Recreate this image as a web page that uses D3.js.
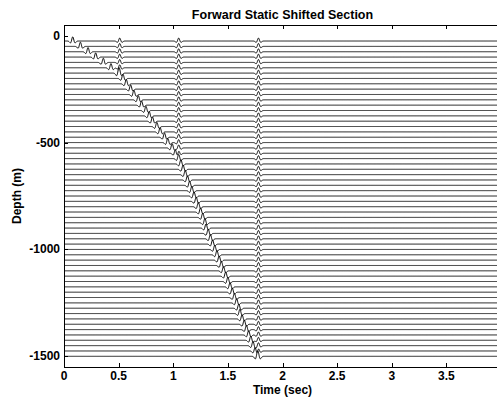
<!DOCTYPE html>
<html>
<head>
<meta charset="utf-8">
<script src="https://cdn.jsdelivr.net/npm/d3@7/dist/d3.min.js"></script>
<style>
  html, body { margin: 0; padding: 0; background: #fff; }
  svg { display: block; }
  text { font-family: "Liberation Sans", Arial, sans-serif; font-weight: bold; fill: #000; }
</style>
</head>
<body>
<script>
// Receiver depths (m) of the VSP traces
const depths = [-25, -50, -75, -100, -125, -150, -175, -200, -225, -250,
  -275, -300, -325, -350, -375, -400, -425, -450, -475, -500,
  -525, -550, -575, -600, -625, -650, -675, -700, -725, -750,
  -775, -800, -825, -850, -875, -900, -925, -950, -975, -1000,
  -1025, -1050, -1075, -1100, -1125, -1150, -1175, -1200, -1225, -1250,
  -1275, -1300, -1325, -1350, -1375, -1400, -1425, -1450, -1475, -1500];

// Shifted first-break (direct arrival) time for each trace (s)
const directTimes = [0.08, 0.15, 0.22, 0.29, 0.36, 0.43, 0.50, 0.54, 0.57, 0.61,
  0.64, 0.68, 0.71, 0.75, 0.78, 0.81, 0.85, 0.88, 0.92, 0.95,
  0.99, 1.02, 1.05, 1.07, 1.09, 1.11, 1.13, 1.15, 1.17, 1.19,
  1.21, 1.23, 1.25, 1.27, 1.29, 1.30, 1.32, 1.34, 1.36, 1.38,
  1.40, 1.42, 1.44, 1.46, 1.48, 1.50, 1.52, 1.54, 1.56, 1.58,
  1.60, 1.61, 1.63, 1.65, 1.67, 1.69, 1.71, 1.73, 1.75, 1.77];

// Flattened upgoing reflections: two-way time and reflector depth (m)
const reflectionTimes = [0.51, 1.05, 1.78];
const reflectorDepths = [-180, -572, -1530];

// Axis ticks
const timeTicks = [0, 0.5, 1, 1.5, 2, 2.5, 3, 3.5];
const depthTicks = [0, -500, -1000, -1500];

const W = 497, H = 399;
const margin = { left: 64, top: 25, right: -4, bottom: 32 };

const svg = d3.select("body").append("svg").attr("width", W).attr("height", H);

const x = d3.scaleLinear().domain([0, 4]).range([margin.left, W - margin.right]);
const y = d3.scaleLinear().domain([50, -1550]).range([margin.top, H - margin.bottom]);

// Ricker wavelet used for every arrival
const freq = 18;
function ricker(t) {
  const a = Math.PI * Math.PI * freq * freq * t * t;
  return (1 - 2 * a) * Math.exp(-a);
}

// Build the events on each trace
const traces = depths.map((d, i) => {
  const events = [{ t: directTimes[i], amp: 1.0 }];
  reflectionTimes.forEach((rt, k) => {
    if (d > reflectorDepths[k]) events.push({ t: rt, amp: 0.7 });
  });
  return { depth: d, events };
});

const dt = 0.002;
const samples = d3.range(0, 4 + dt / 2, dt);
const pxPerUnit = 4.2;

const line = d3.line().x(p => x(p[0])).y(p => p[1]);

const plot = svg.append("g");
plot.selectAll("path.trace")
  .data(traces)
  .join("path")
  .attr("class", "trace")
  .attr("fill", "none")
  .attr("stroke", "#000")
  .attr("stroke-width", 1)
  .attr("d", tr => {
    const y0 = y(tr.depth);
    const pts = samples.map(t => {
      let v = 0;
      tr.events.forEach(e => { v += e.amp * ricker(t - e.t); });
      return [t, y0 - v * pxPerUnit];
    });
    return line(pts);
  });

// Frame and axes
const x0 = x(0), x1 = x(4), yTop = y(50), yBot = y(-1550);
const frame = svg.append("g").attr("stroke", "#000").attr("stroke-width", 1).attr("fill", "none");
frame.append("rect").attr("x", x0 + 0.5).attr("y", yTop + 0.5)
  .attr("width", x1 - x0).attr("height", yBot - yTop);

const tickLen = 4;
timeTicks.forEach(v => {
  const px = Math.round(x(v)) + 0.5;
  frame.append("line").attr("x1", px).attr("x2", px).attr("y1", yBot).attr("y2", yBot - tickLen);
  frame.append("line").attr("x1", px).attr("x2", px).attr("y1", yTop).attr("y2", yTop + tickLen);
});
depthTicks.forEach(v => {
  const py = Math.round(y(v)) + 0.5;
  frame.append("line").attr("x1", x0).attr("x2", x0 + tickLen).attr("y1", py).attr("y2", py);
  frame.append("line").attr("x1", x1).attr("x2", x1 - tickLen).attr("y1", py).attr("y2", py);
});

svg.append("g").selectAll("text").data(timeTicks).join("text")
  .attr("x", d => x(d)).attr("y", yBot + 13)
  .attr("text-anchor", "middle").attr("font-size", 12)
  .text(d => d3.format("")(d));

svg.append("g").selectAll("text").data(depthTicks).join("text")
  .attr("x", x0 - 4).attr("y", d => y(d) + 4)
  .attr("text-anchor", "end").attr("font-size", 12)
  .text(d => d === 0 ? "0" : "-" + Math.abs(d));

svg.append("text")
  .attr("x", (x0 + x1) / 2).attr("y", 19)
  .attr("text-anchor", "middle").attr("font-size", 12.5)
  .text("Forward Static Shifted Section");

svg.append("text")
  .attr("x", (x0 + x1) / 2).attr("y", 394)
  .attr("text-anchor", "middle").attr("font-size", 12)
  .text("Time (sec)");

svg.append("text")
  .attr("transform", `translate(21,${(yTop + yBot) / 2}) rotate(-90)`)
  .attr("text-anchor", "middle").attr("font-size", 12)
  .text("Depth (m)");
</script>
</body>
</html>
